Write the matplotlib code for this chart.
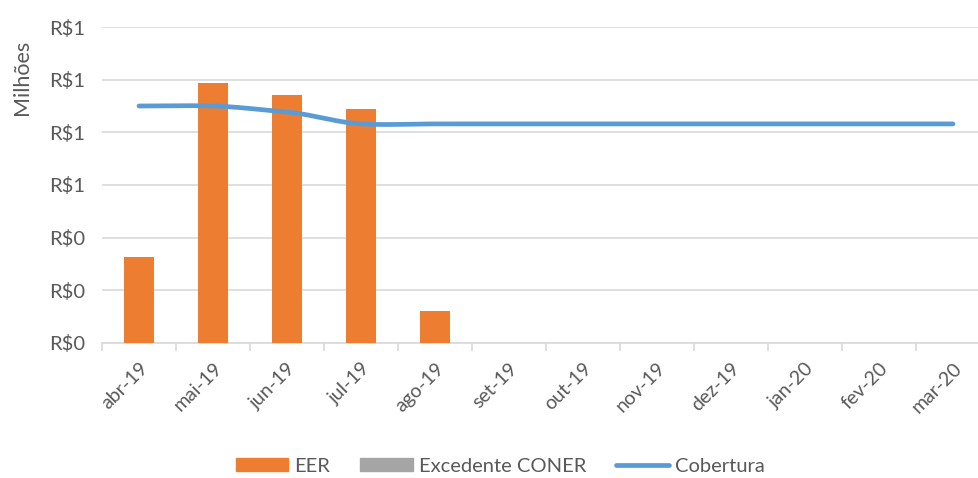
import numpy as np
import matplotlib.pyplot as plt
from matplotlib.ticker import FuncFormatter, FixedLocator
from matplotlib.patches import Patch
from matplotlib.lines import Line2D

plt.rcParams['font.family'] = ['Lato', 'DejaVu Sans']

meses = ['abr-19', 'mai-19', 'jun-19', 'jul-19', 'ago-19', 'set-19',
         'out-19', 'nov-19', 'dez-19', 'jan-20', 'fev-20', 'mar-20']
eer = [0.328, 0.986, 0.941, 0.887, 0.122, 0, 0, 0, 0, 0, 0, 0]
excedente = [0] * 12
cobertura = [0.900, 0.900, 0.877, 0.832, 0.832, 0.832,
             0.832, 0.832, 0.832, 0.832, 0.832, 0.832]

cinza_txt = '#595959'
laranja = '#ED7D31'
cinza = '#A5A5A5'
azul = '#5B9BD5'


def suave(x, y, n=20, k=0.35):
    # curva de Hermite com tangentes reduzidas, como a linha suavizada do Excel
    x = np.asarray(x, float)
    y = np.asarray(y, float)
    m = np.zeros_like(y)
    m[1:-1] = (y[2:] - y[:-2]) * k
    xs, ys = [], []
    for i in range(len(x) - 1):
        t = np.linspace(0, 1, n, endpoint=False)
        h00 = 2 * t ** 3 - 3 * t ** 2 + 1
        h10 = t ** 3 - 2 * t ** 2 + t
        h01 = -2 * t ** 3 + 3 * t ** 2
        h11 = t ** 3 - t ** 2
        xs.extend(x[i] + t * (x[i + 1] - x[i]))
        ys.extend(h00 * y[i] + h10 * m[i] + h01 * y[i + 1] + h11 * m[i + 1])
    xs.append(x[-1])
    ys.append(y[-1])
    return xs, ys


fig = plt.figure(figsize=(9.79, 4.78), dpi=100)
ax = fig.add_axes([102 / 979, 135 / 478, 888 / 979, 316 / 478])

x = np.arange(len(meses))
ax.bar(x, eer, width=0.41, color=laranja, zorder=3)
ax.bar(x, excedente, width=0.41, color=cinza, zorder=3)
sx, sy = suave(x, cobertura)
ax.plot(sx, sy, color=azul, lw=3.4, solid_capstyle='round', zorder=4)

ax.set_xlim(-0.5, 11.5)
ax.set_ylim(0, 1.2)
ax.set_yticks(np.arange(0, 1.21, 0.2))
ax.yaxis.set_major_formatter(FuncFormatter(lambda v, p: 'R$%d' % round(v + 1e-9)))
ax.grid(axis='y', color='#D9D9D9', lw=1.2, zorder=0)

ax.set_xticks(x)
ax.set_xticklabels(meses, rotation=45, ha='right', rotation_mode='anchor')
ax.xaxis.set_minor_locator(FixedLocator(np.arange(-0.5, 12, 1)))
ax.tick_params(axis='x', which='major', length=0, pad=12, labelsize=14, colors=cinza_txt)
ax.tick_params(axis='x', which='minor', length=6, width=1.2, color='#D9D9D9')
ax.tick_params(axis='y', length=0, pad=12, labelsize=14.5, colors=cinza_txt)

for s in ['top', 'right', 'left']:
    ax.spines[s].set_visible(False)
ax.spines['bottom'].set_color('#D9D9D9')
ax.spines['bottom'].set_linewidth(1.2)

fig.text(22 / 979, 1 - 77 / 478, 'Milhões', rotation=90, ha='center', va='center',
         fontsize=15.5, color=cinza_txt)

handles = [Patch(color=laranja, label='EER'),
           Patch(color=cinza, label='Excedente CONER'),
           Line2D([], [], color=azul, lw=3.4, solid_capstyle='round', label='Cobertura')]
fig.legend(handles=handles, loc='center', bbox_to_anchor=(500 / 979, 1 - 466 / 478),
           ncol=3, frameon=False, fontsize=14.5, labelcolor=cinza_txt,
           handlelength=2.6, handleheight=0.6, columnspacing=1.5, handletextpad=0.3)

fig.savefig('out.png', dpi=100)
